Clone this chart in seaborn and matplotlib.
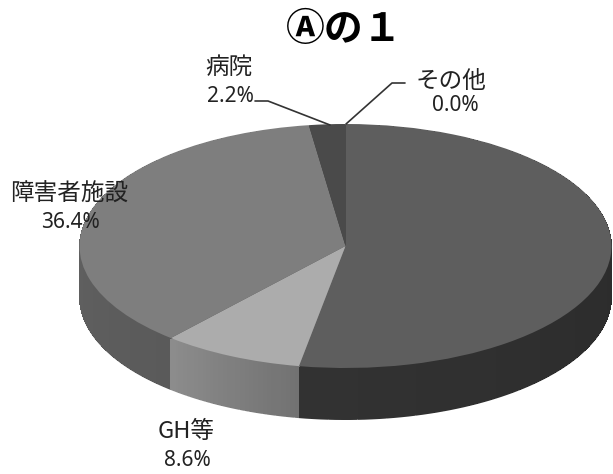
import numpy as np
import matplotlib
matplotlib.use('Agg')
import matplotlib.pyplot as plt
from matplotlib.lines import Line2D
import seaborn as sns

categories = ['自宅等', 'GH等', '障害者施設', '病院', 'その他']
shares = [52.8, 8.6, 36.4, 2.2, 0.0]
shown = ['', '8.6%', '36.4%', '2.2%', '0.0%']

top_colors = ['#5e5e5e', '#acacac', '#7e7e7e', '#4a4a4a', '#4a4a4a']
wall_right = ['#262626', '#727272', '#5a5a5a', '#3a3a3a', '#3a3a3a']  # wall shade at slice start
wall_left = ['#323232', '#8c8c8c', '#6a6a6a', '#3a3a3a', '#3a3a3a']   # wall shade at slice end

W, H = 613, 474
cx, cy, rx, ry = 345.5, 246, 266, 122
depth = 52

sns.set_theme(style='white')
plt.rcParams['font.family'] = ['Noto Sans CJK JP', 'DejaVu Sans']

fig = plt.figure(figsize=(W / 100, H / 100), dpi=100, facecolor='white')
ax = fig.add_axes([(cx - rx) / W, 1 - (cy + ry) / H, 2 * rx / W, 2 * ry / H])

# side wall: pie layers stacked downwards, each slice cut in parts for the shading
parts = 30
wall_vals, wall_cols = [], []
for s, c0, c1 in zip(shares, wall_right, wall_left):
    if s == 0:
        continue
    ramp = sns.blend_palette([c0, c1], parts)
    wall_vals += [s / parts] * parts
    wall_cols += list(ramp)

for d in np.arange(depth, 0, -1.0):
    ax.pie(wall_vals, colors=wall_cols, startangle=90, counterclock=False,
           center=(0, -d / ry),
           wedgeprops={'linewidth': 0, 'antialiased': bool(d == depth)})

# top face
ax.pie(shares, colors=top_colors, startangle=90, counterclock=False,
       wedgeprops={'linewidth': 0})

ax.set_aspect('auto')
ax.set_xlim(-1, 1)
ax.set_ylim(-1, 1)
for p in ax.patches:
    p.set_clip_on(False)

pct_font = ['Noto Sans', 'DejaVu Sans']


def put(x, y, s, size, **kw):
    fig.text(x / W, 1 - y / H, s, fontsize=size, ha='center', va='center',
             color='#222222', **kw)


fig.text(344 / W, 1 - 30 / H, 'Ⓐの１', fontsize=28, fontweight='bold',
         ha='center', va='center', color='black')

put(69, 194, categories[2], 17)
put(70, 223, shown[2], 15, family=pct_font)
put(229, 67, categories[3], 17)
put(230, 96, shown[3], 15, family=pct_font)
put(451, 81, categories[4], 17)
put(455, 106, shown[4], 15, family=pct_font)
put(186, 431, categories[1], 17)
put(187, 461, shown[1], 15, family=pct_font)

leaders = [([255, 268, 330], [101, 101, 125]), ([405, 392, 346], [83, 83, 124])]
for xs, ys in leaders:
    fig.add_artist(Line2D([x / W for x in xs], [1 - y / H for y in ys],
                          color='#333333', lw=1.2))

fig.savefig('out.png', dpi=100)
